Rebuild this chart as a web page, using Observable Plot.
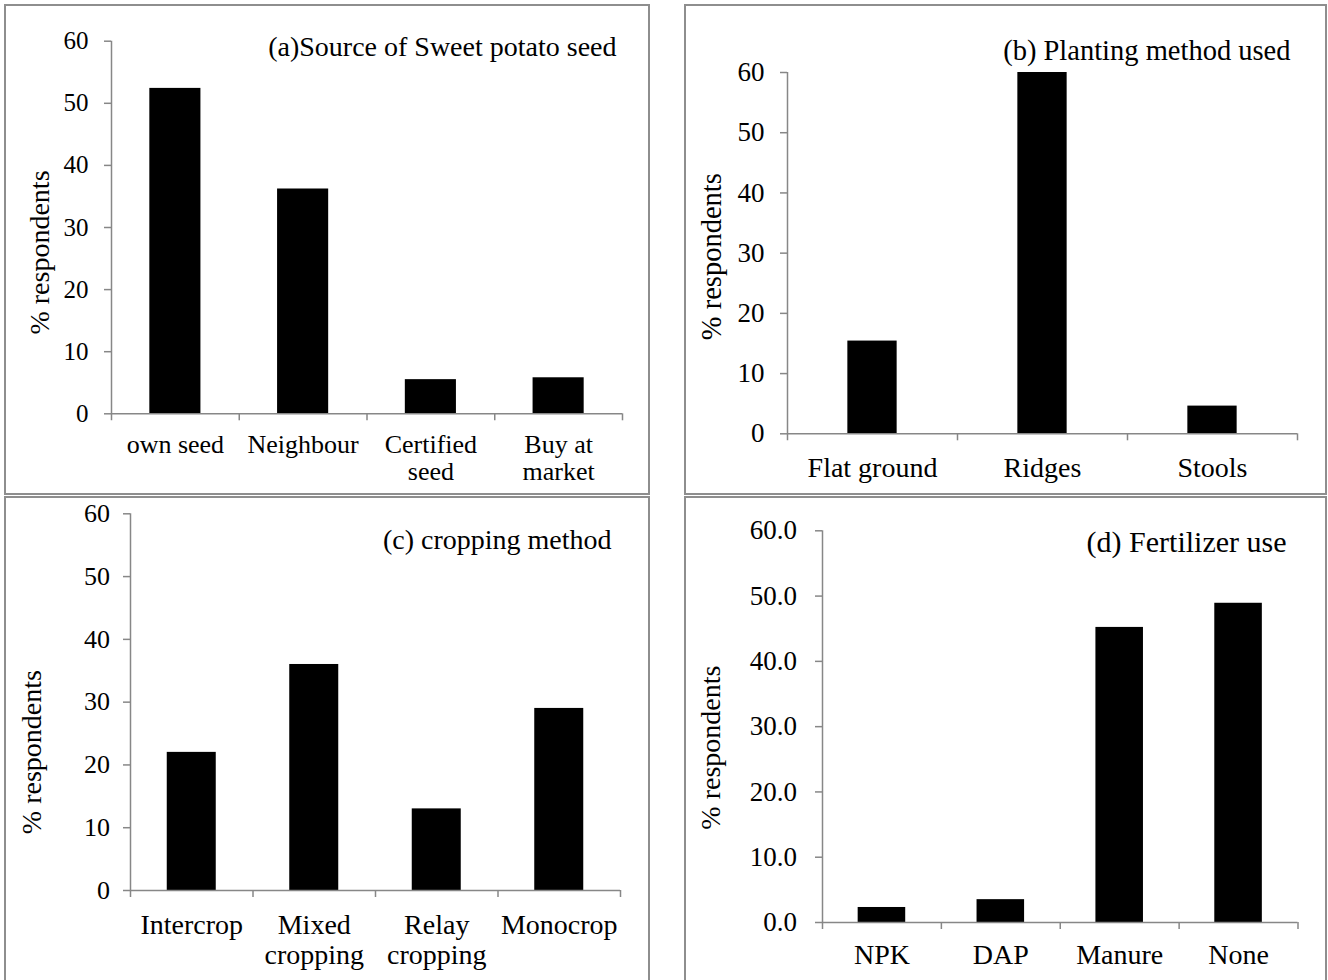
<!DOCTYPE html>
<html>
<head>
<meta charset="utf-8">
<script src="https://cdn.jsdelivr.net/npm/d3@7"></script>
<script src="https://cdn.jsdelivr.net/npm/@observablehq/plot@0.6"></script>
<style>
  html, body { margin: 0; padding: 0; background: #fff; }
  #page { position: relative; width: 1328px; height: 980px; overflow: hidden; background: #fff; }
  .box { position: absolute; box-sizing: border-box; border: 2px solid #8e8e8e; }
  .panel { position: absolute; width: 664px; height: 490px; }
  .panel svg { overflow: visible; }
</style>
</head>
<body>
<div id="page">
  <div class="box" style="left:4px;top:4px;width:646px;height:491px"></div>
  <div class="box" style="left:684px;top:4px;width:643px;height:491px"></div>
  <div class="box" style="left:4px;top:496px;width:646px;height:492px"></div>
  <div class="box" style="left:684px;top:496px;width:643px;height:492px"></div>
  <div class="panel" id="pa" style="left:0;top:0"></div>
  <div class="panel" id="pb" style="left:664px;top:0"></div>
  <div class="panel" id="pc" style="left:0;top:490px"></div>
  <div class="panel" id="pd" style="left:664px;top:490px"></div>
</div>
<script>
// ---- Data ----
const yLabel = "% respondents";
const yTicks = [0, 10, 20, 30, 40, 50, 60];

const sourceTitle = "(a)Source of Sweet potato seed";
const sourceCats = ["own seed", "Neighbour", "Certified seed", "Buy at market"];
const sourceTickLabels = ["own seed", "Neighbour", "Certified\nseed", "Buy at\nmarket"];
const sourceValues = [52.4, 36.2, 5.5, 5.8];

const plantingTitle = "(b) Planting method used";
const plantingCats = ["Flat ground", "Ridges", "Stools"];
const plantingTickLabels = ["Flat ground", "Ridges", "Stools"];
const plantingValues = [15.4, 60.0, 4.6];

const croppingTitle = "(c) cropping method";
const croppingCats = ["Intercrop", "Mixed cropping", "Relay cropping", "Monocrop"];
const croppingTickLabels = ["Intercrop", "Mixed\ncropping", "Relay\ncropping", "Monocrop"];
const croppingValues = [22, 36, 13, 29];

const fertTitle = "(d) Fertilizer use";
const fertCats = ["NPK", "DAP", "Manure", "None"];
const fertTickLabels = ["NPK", "DAP", "Manure", "None"];
const fertValues = [2.3, 3.5, 45.2, 48.9];

// ---- Drawing ----
const GRAY = "#878787";
const W = 664, H = 490;

function panel(o) {
  const data = o.cats.map((c, i) => ({cat: c, value: o.values[i]}));
  const n = o.cats.length;
  const frameW = W - o.ml - o.mr;
  const frameH = H - o.mt - o.mb;
  const step = frameW / n;
  const tick = 7;
  return Plot.plot({
    width: W, height: H,
    marginLeft: o.ml, marginRight: o.mr, marginTop: o.mt, marginBottom: o.mb,
    style: {fontFamily: "'Liberation Serif', serif", fontSize: o.tickFont + "px", color: "black", background: "transparent", overflow: "visible"},
    x: {domain: o.cats, paddingInner: o.pad, paddingOuter: o.pad / 2, round: false, axis: null},
    y: {domain: [0, 60], axis: null},
    marks: [
      Plot.barY(data, {x: "cat", y: "value", fill: "black"}),
      Plot.ruleY([0], {stroke: GRAY, strokeWidth: 1.5}),
      Plot.ruleX([o.cats[0]], {dx: -step / 2, stroke: GRAY, strokeWidth: 1.5, insetBottom: -tick}),
      Plot.ruleX(o.cats.slice(1), {dx: -step / 2, stroke: GRAY, strokeWidth: 1.5, insetTop: frameH, insetBottom: -tick}),
      Plot.ruleX([o.cats[n - 1]], {dx: step / 2, stroke: GRAY, strokeWidth: 1.5, insetTop: frameH, insetBottom: -tick}),
      Plot.axisY({ticks: yTicks, tickSize: tick, tickPadding: o.ytp, stroke: GRAY, strokeWidth: 1.5, fontSize: o.tickFont, tickFormat: o.yfmt, label: null}),
      Plot.axisX({tickSize: 0, tickPadding: o.xtp, fontSize: o.xFont, lineHeight: 1.05, tickFormat: d => o.labels[o.cats.indexOf(d)], label: null}),
      Plot.text([o.title], {frameAnchor: "top-right", textAnchor: "end", lineAnchor: "bottom", dx: o.tdx, dy: o.tdy, fontSize: o.titleFont, fill: "black"}),
      Plot.text([yLabel], {frameAnchor: "left", rotate: -90, textAnchor: "middle", lineAnchor: "middle", dx: o.ldx, dy: o.ldy, fontSize: o.labelFont, fill: "black"})
    ]
  });
}

document.getElementById("pa").append(panel({
  cats: sourceCats, labels: sourceTickLabels, values: sourceValues, title: sourceTitle,
  ml: 111, mr: 42, mt: 40.7, mb: 76.7, pad: 0.6,
  ytp: 16, xtp: 20, tickFont: 25, xFont: 26, titleFont: 28, labelFont: 28,
  tdx: -6, tdy: 14.3, ldx: -71, ldy: 25, yfmt: d => d
}));

document.getElementById("pb").append(panel({
  cats: plantingCats, labels: plantingTickLabels, values: plantingValues, title: plantingTitle,
  ml: 123, mr: 31, mt: 72, mb: 56.7, pad: 0.71,
  ytp: 16, xtp: 22, tickFont: 27, xFont: 28, titleFont: 28.5, labelFont: 28.5,
  tdx: -7, tdy: -12.7, ldx: -76, ldy: 3.5, yfmt: d => d
}));

document.getElementById("pc").append(panel({
  cats: croppingCats, labels: croppingTickLabels, values: croppingValues, title: croppingTitle,
  ml: 130, mr: 44, mt: 23.3, mb: 90, pad: 0.6,
  ytp: 13.5, xtp: 23, tickFont: 26, xFont: 28, titleFont: 28, labelFont: 28,
  tdx: -9, tdy: 35, ldx: -98, ldy: 50, yfmt: d => d
}));

document.getElementById("pd").append(panel({
  cats: fertCats, labels: fertTickLabels, values: fertValues, title: fertTitle,
  ml: 158, mr: 30.5, mt: 40.3, mb: 58, pad: 0.6,
  ytp: 18.5, xtp: 21, tickFont: 27, xFont: 28, titleFont: 30, labelFont: 28,
  tdx: -11.5, tdy: 21.4, ldx: -111, ldy: 21, yfmt: d3.format(".1f")
}));
</script>
</body>
</html>
